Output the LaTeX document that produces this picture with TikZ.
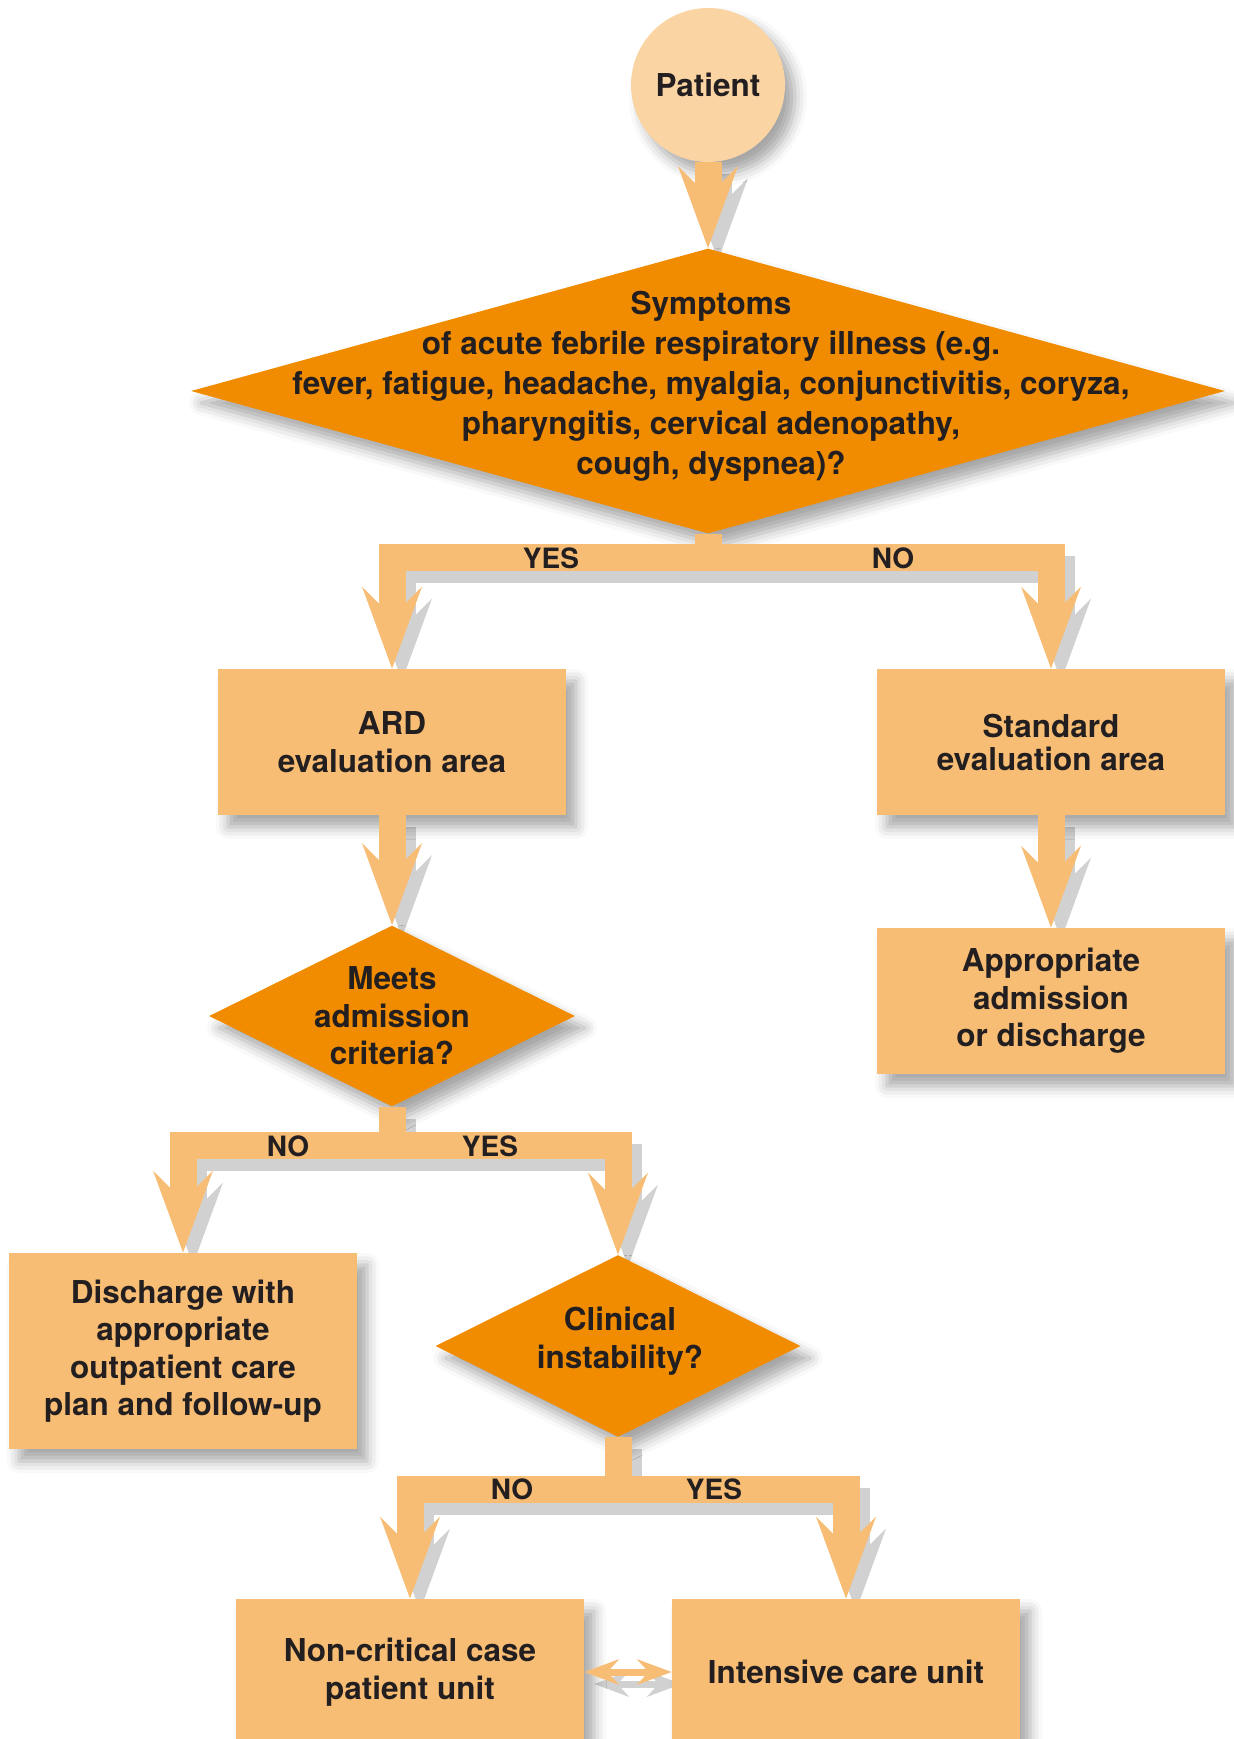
\documentclass[tikz,border=0pt]{standalone}
\usepackage{fontspec}
\setmainfont{TeX Gyre Heros}
\usepackage{xcolor}
\usetikzlibrary{shapes,arrows.meta,positioning,shadows.blur}

\definecolor{boxfill}{RGB}{248,189,116}
\definecolor{decfill}{RGB}{241,140,0}
\definecolor{patfill}{RGB}{251,212,164}
\definecolor{ink}{RGB}{35,31,32}

\pgfdeclarelayer{back}
\pgfdeclarelayer{front}
\pgfsetlayers{back,main,front}

\begin{document}
\begin{tikzpicture}[x=0.5pt, y=-0.5pt, text=ink,
    font=\fontsize{15.75}{18.75}\selectfont\bfseries,
    softshadow/.style={blur shadow={shadow xshift=5pt, shadow yshift=-6pt, shadow blur radius=6pt, shadow opacity=35}},
    box/.style={rectangle, fill=boxfill, minimum width=174pt, minimum height=73pt, inner sep=0pt, align=center, softshadow},
    decision/.style={diamond, fill=decfill, inner sep=0pt, softshadow},
    dtext/.style={align=center, inner sep=0pt},
    yn/.style={font=\fontsize{14}{16}\selectfont\bfseries, inner sep=0pt},
    fat/.style={line width=13.5pt},
    bigtip/.style={-{Stealth[length=41pt, width=30pt, inset=15pt, line width=0pt]}},
    twoway/.style={line width=3.5pt, {Stealth[length=17.5pt, width=13pt, inset=6pt, line width=0pt]}-{Stealth[length=17.5pt, width=13pt, inset=6pt, line width=0pt]}},
    flowtop/.style={draw=boxfill},
    flowshade/.style={draw=black!18, transform canvas={shift={(5pt,-6pt)}}}]
    \useasboundingbox (0,0) rectangle (1233,1739);

    \node[circle, fill=patfill, minimum size=77pt, inner sep=0pt, softshadow] (pat) at (708,85) {Patient};
    \node[decision, minimum width=517pt, minimum height=142.5pt] (sym) at (708,391) {};
    \node[dtext, font=\fontsize{15.75}{20}\selectfont\bfseries] (symtext) at (711,386) {Symptoms\\of acute febrile respiratory illness (e.g.\\fever, fatigue, headache, myalgia, conjunctivitis, coryza,\\pharyngitis, cervical adenopathy,\\cough, dyspnea)?};

    \node[box] (ard) at (392,742) {ARD\\evaluation area};
    \node[box, font=\fontsize{15.75}{16.5}\selectfont\bfseries] (std) at (1051,742) {Standard\\evaluation area};
    \node[box] (app) at (1051,1001) {Appropriate\\admission\\or discharge};

    \node[decision, minimum width=183pt, minimum height=90.5pt] (meets) at (392,1016) {};
    \node[dtext] (meetstext) at (392,1016) {Meets\\admission\\criteria?};
    \node[box, minimum height=98pt] (dis) at (183,1351) {Discharge with\\appropriate\\outpatient care\\plan and follow-up};
    \node[decision, minimum width=182.5pt, minimum height=91pt] (clin) at (618,1346) {};
    \node[dtext] (clintext) at (620,1341) {Clinical\\instability?};

    \node[box] (ncu) at (410,1672) {Non-critical case\\patient unit};
    \node[box] (icu) at (846,1672) {Intensive care unit};

    \coordinate (b1) at (708,557);
    \coordinate (b2) at (392,1145);
    \coordinate (b3) at (618,1489);

    \foreach \lay/\look in {back/flowshade, front/flowtop} {
        \begin{pgfonlayer}{\lay}
        \draw[fat, bigtip, \look] (pat) -- (sym);
        \draw[fat, \look] (sym.south) -- (b1);
        \draw[fat, bigtip, \look] (b1) -| (ard.north);
        \draw[fat, bigtip, \look] (b1) -| (std.north);
        \draw[fat, bigtip, \look] (ard) -- (meets);
        \draw[fat, bigtip, \look] (std) -- (app);
        \draw[fat, \look] (meets.south) -- (b2);
        \draw[fat, bigtip, \look] (b2) -| (dis.north);
        \draw[fat, bigtip, \look] (b2) -| (clin.north);
        \draw[fat, \look] (clin.south) -- (b3);
        \draw[fat, bigtip, \look] (b3) -| (ncu.north);
        \draw[fat, bigtip, \look] (b3) -| (icu.north);
        \draw[twoway, \look] (ncu) -- (icu);
        \end{pgfonlayer}
    }

    \begin{pgfonlayer}{front}
    \node[yn] (yes1) at (551,558) {YES};
    \node[yn] (no1) at (893,558) {NO};
    \node[yn] (no2) at (288,1146) {NO};
    \node[yn] (yes2) at (490,1146) {YES};
    \node[yn] (no3) at (512,1489) {NO};
    \node[yn] (yes3) at (714,1489) {YES};
    \end{pgfonlayer}
\end{tikzpicture}
\end{document}
